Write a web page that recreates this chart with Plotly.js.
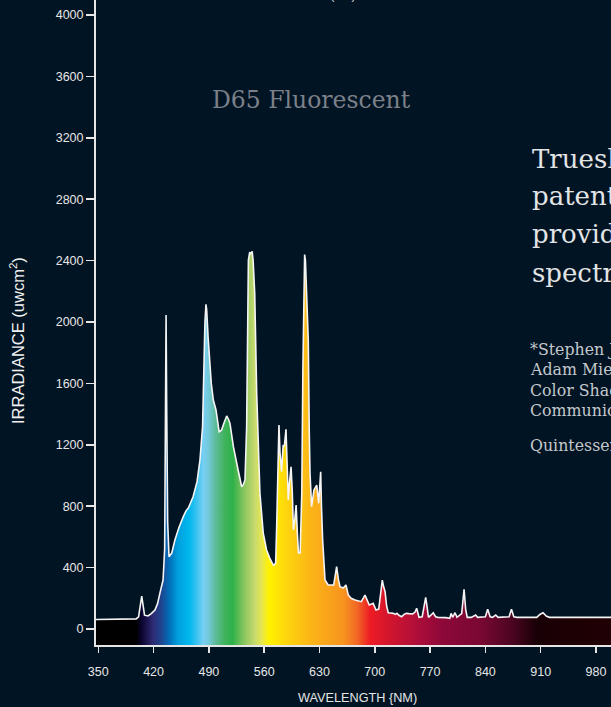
<!DOCTYPE html>
<html>
<head>
<meta charset="utf-8">
<script src="https://cdn.plot.ly/plotly-3.0.1.min.js"></script>
<style>
html,body{margin:0;padding:0;background:#011423;overflow:hidden;}
#chart{width:611px;height:707px;}
</style>
</head>
<body>
<div id="chart"></div>
<script>
// Wavelength (nm) and irradiance (uW/cm^2)
const wavelength = [347,360,380,398,401,403.5,405,406.5,408.5,413,417,421.7,425,428,432,434,435.2,435.8,436.5,437.8,439.5,443,447,452,457.6,461,464,470,475,478.7,482,483.8,485,486.3,487.2,489,491,493,495.6,499,503,506,509,512.5,514.5,516.7,521,524,527,531.5,533.5,535.7,537.8,540,541.5,542.8,543.5,544.8,546,548,550.5,552.5,554.6,558.8,563,567,571.5,573,574.5,575.8,577.5,578.7,580,582,584,585.5,587.6,589,590.5,592,594,595.5,597,598.5,600.4,602,603.4,605.5,607.6,609,610.3,611.2,612.2,613.5,615.8,617,618,620,621.5,623,624.5,626.5,629,631.5,632.5,634,637,641,648,651.7,654,656,660,662,663.5,666.5,670,675,683,687.6,690,693,698,701.5,705,707.5,709.5,711,713,715,717,720,723.5,726,728,731,734,737,740,743,748,751,753,756,760,762.5,764.4,766,768,771,774,777,780,790,795,796.6,798.5,801.6,804,810,813,815,817,822,826,827.7,830,840,842.9,846,849,853,856,860,870,873,876,880,905,909,913,917,921,1000];
const irradiance = [62,62,63,66,80,170,215,160,90,85,100,124,165,234,319,520,1600,2045,1500,700,471,495,580,660,732,770,788,862,960,1101,1318,1752,2000,2115,2080,1900,1752,1600,1492,1427,1285,1296,1340,1388,1370,1340,1188,1100,1036,927,940,971,1318,2404,2450,2445,2455,2460,2400,2189,1537,1150,886,625,515,462,417,420,430,665,1100,1329,1150,1025,1199,1190,1301,1050,840,950,1057,900,645,700,808,620,495,495,886,1700,2400,2440,2400,2150,1883,1300,1016,797,850,906,920,938,819,1025,800,580,319,287,287,406,320,276,267,275,287,221,200,189,178,221,190,156,167,124,130,250,319,280,243,150,106,104,102,95,102,88,80,95,102,100,98,110,135,76,80,150,206,150,76,90,106,80,76,74,70,102,76,106,76,100,259,130,76,76,85,91,76,80,128,80,76,91,76,76,80,128,80,76,76,95,106,85,76,76];

const xTickStart = 350, xTickStep = 70;
const yTickStep = 400;
const xRange = [347.1, 999];
const yRange = [-104.2, 4098];
const fillFloor = -1000;

// Spectrum colour stops: [wavelength nm, colour]
const spectrumStops = [
  [347,'#000000'],[398,'#000000'],[405,'#0b0530'],[419,'#2e2a72'],[430,'#1d4590'],
  [440.7,'#0072bc'],[451,'#00a0dd'],[465,'#00b7ee'],[475,'#3cc3f0'],[483,'#78cff3'],
  [490,'#72c8d8'],[498,'#5fbc9c'],[510,'#40b35c'],[520,'#2eb04a'],[535,'#8cc660'],
  [548,'#c6da6e'],[557,'#e6e64e'],[566,'#fff200'],[592,'#fdd10f'],[620,'#fbb417'],
  [660,'#f7941e'],[677,'#f26a24'],[694,'#ed1c24'],[720,'#d0152e'],[753,'#b00e3a'],
  [786,'#8c0838'],[833,'#7a0832'],[875,'#4a0520'],[905,'#180006'],[940,'#1c0004'],[1000,'#200004']
];

const gStart = spectrumStops[0][0], gStop = spectrumStops[spectrumStops.length-1][0];
const colorscale = spectrumStops.map(s => [(s[0]-gStart)/(gStop-gStart), s[1]]);

const bg = '#011423';
const axisCol = '#e6e6e6';
const sans = 'Liberation Sans, Arial, sans-serif';
const serif = 'DejaVu Serif, serif';

const traces = [
  {x:[wavelength[0], wavelength[wavelength.length-1]], y:[fillFloor, fillFloor],
   mode:'lines', line:{width:0, color:bg}, hoverinfo:'skip', showlegend:false},
  {x:wavelength, y:irradiance, mode:'lines', line:{color:'#f4f4f4', width:1.6},
   fill:'tonexty',
   fillgradient:{type:'horizontal', colorscale:colorscale, start:gStart, stop:gStop},
   hoverinfo:'skip', showlegend:false}
];

const bigLines = ['Trueshade\u2122', 'patented', 'provides', 'spectrum'];
const bigY = [159, 196.5, 234, 272.5];
const smallLines = ['*Stephen J. Chu, DDS', 'Adam Mieleszko, CDT', 'Color Shade Matching', 'Communication', 'Quintessence Publishing'];
const smallY = [349, 369.5, 390, 410, 445];

function pxY(py){ return 1 - py/645; }
function pxX(px){ return (px-96)/515; }

const annotations = [
  {text:'D65 Fluorescent', xref:'paper', yref:'paper', x:pxX(311.5), y:pxY(100), xanchor:'center', yanchor:'middle',
   showarrow:false, font:{family:serif, size:23.5, color:'#7c8089'}},
  {text:'IRRADIANCE (uwcm<sup>2</sup>)', xref:'paper', yref:'paper', x:pxX(17), y:pxY(341), xanchor:'center', yanchor:'middle',
   textangle:-90, showarrow:false, font:{family:sans, size:16.5, color:'#f0f0f0'}},
  {text:'WAVELENGTH {NM)', xref:'paper', yref:'paper', x:pxX(357.5), y:pxY(697.5), xanchor:'center', yanchor:'middle',
   showarrow:false, font:{family:sans, size:12.7, color:'#e6e6e6'}},
  {text:'WAVELENGTH (NM)', xref:'paper', yref:'paper', x:pxX(303.5), y:1, xanchor:'center', yanchor:'bottom', yshift:-4,
   showarrow:false, font:{family:sans, size:11, color:'#e6e6e6'}}
];
bigLines.forEach((t,i)=>annotations.push({text:t, xref:'paper', yref:'paper', x:pxX(530), y:pxY(bigY[i]),
  xanchor:'left', yanchor:'middle', showarrow:false, font:{family:serif, size:26, color:'#e2e4e6'}}));
smallLines.forEach((t,i)=>annotations.push({text:t, xref:'paper', yref:'paper', x:pxX(528), y:pxY(smallY[i]),
  xanchor:'left', yanchor:'middle', showarrow:false, font:{family:serif, size:15.8, color:'#c4c8cc'}}));

const layout = {
  width:611, height:707,
  margin:{l:96, r:0, t:0, b:62, pad:0},
  paper_bgcolor:bg, plot_bgcolor:bg,
  showlegend:false,
  xaxis:{range:xRange, tick0:xTickStart, dtick:xTickStep, tickmode:'linear',
    showgrid:false, zeroline:false, showline:true, linecolor:axisCol, linewidth:2,
    ticks:'outside', ticklen:6, tickwidth:1.5, tickcolor:axisCol, ticklabelstandoff:8,
    tickfont:{family:sans, size:12.5, color:'#e6e6e6'}},
  yaxis:{range:yRange, tick0:0, dtick:yTickStep, tickmode:'linear',
    showgrid:false, zeroline:false, showline:true, linecolor:axisCol, linewidth:2,
    ticks:'outside', ticklen:8, tickwidth:1.5, tickcolor:axisCol,
    tickfont:{family:sans, size:12.5, color:'#e6e6e6'}},
  annotations:annotations
};

Plotly.newPlot('chart', traces, layout, {staticPlot:true, displayModeBar:false});
</script>
</body>
</html>
